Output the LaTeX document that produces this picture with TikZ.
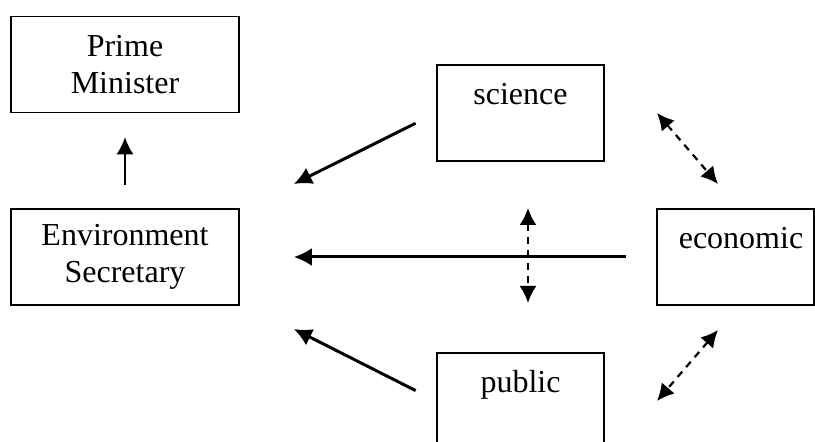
\documentclass[tikz,border=0pt]{standalone}
\usepackage{fontspec}
\setmainfont{Liberation Serif}
\usetikzlibrary{arrows.meta}
\tikzset{
    box/.style={draw,line width=0.8pt,inner sep=0pt,align=center,font=\fontsize{16}{18.5}\selectfont},
    wide/.style={box,minimum width=114pt,minimum height=48pt},
    topbox/.style={box,minimum width=83.5pt,text height=20pt,text depth=28pt},
    solidarr/.style={line width=1.5pt,-{Latex[length=9pt,width=9pt]}},
    dasharr/.style={line width=1.1pt,dash pattern=on 3.5pt off 3pt,{Latex[length=8.5pt,width=8.5pt]}-{Latex[length=8.5pt,width=8.5pt]}}
}
\begin{document}
\begin{tikzpicture}[x=0.5pt,y=-0.5pt]
            \clip (0,0) rectangle (815,442);
            \node[wide] (pm) at (125,64.5) {Prime\\Minister};
            \node[wide] (env) at (125,257) {Environment\\Secretary};
            \node[topbox] (sci) at (520.5,113) {science};
            \node[topbox,minimum width=78.5pt] (eco) at (735.5,257) {\hspace*{5.5pt}economic};
            \node[topbox] (pub) at (520.5,401) {public};
            \coordinate (sciend) at ([shift={(27pt,36.5pt)}]env.east);
            \coordinate (pubend) at ([shift={(27pt,-36pt)}]env.east);
            \coordinate (vtop) at (528,208);
            \coordinate (vbot) at (528,303);
            \coordinate (se1) at (657,113);
            \coordinate (se2) at (718,184);
            \coordinate (pe1) at (718,330);
            \coordinate (pe2) at (657,401);
            \draw[line width=0.8pt,-{Latex[length=8.5pt,width=8.5pt]},shorten <=11.5pt,shorten >=12pt] (env.north) -- (pm.south);
            \draw[solidarr,shorten <=11.5pt] (sci.west) -- (sciend);
            \draw[solidarr,shorten <=11.5pt] (pub.west) -- (pubend);
            \draw[solidarr,shorten <=15pt,shorten >=27pt] (eco.west) -- (env.east);
            \draw[dasharr] (vtop) -- (vbot);
            \draw[dasharr] (se1) -- (se2);
            \draw[dasharr] (pe1) -- (pe2);
\end{tikzpicture}
\end{document}
